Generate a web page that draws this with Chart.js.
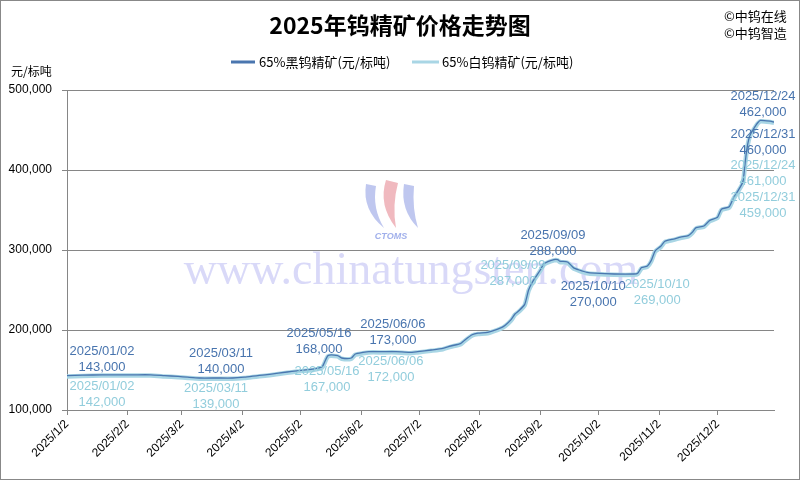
<!DOCTYPE html>
<html><head><meta charset="utf-8">
<script src="https://cdn.jsdelivr.net/npm/chart.js@4.4.1/dist/chart.umd.min.js"></script>
<style>html,body{margin:0;padding:0;background:#fff}#wrap{width:800px;height:480px;position:relative}</style>
</head><body><div id="wrap"><canvas id="c" width="800" height="480"></canvas></div>
<script>
// ---------------- DATA ----------------
const YEAR = 2025;
const titleText = '2025年钨精矿价格走势图';
const unitText = '元/标吨';
const creditLines = ['©中钨在线', '©中钨智造'];
const watermarkText = 'www.chinatungsten.com';
const seriesNames = ['65%黑钨精矿(元/标吨)', '65%白钨精矿(元/标吨)'];

const dates = ['01/02','01/10','01/20','02/05','02/14','02/21','02/28','03/05','03/11','03/20','03/28',
  '04/03','04/10','04/16','04/25','04/30','05/08','05/13','05/16','05/21','05/23','05/28','05/30',
  '06/03','06/06','06/13','06/20','06/27','07/01','07/08','07/14','07/18','07/23','07/25','07/29',
  '08/01','08/06','08/13','08/15','08/18','08/20','08/22','08/25','08/27','08/29','09/02','09/04',
  '09/09','09/11','09/12','09/16','09/19','09/22','09/26','09/30','10/10','10/20','10/22','10/24',
  '10/27','10/29','10/31','11/03','11/05','11/10','11/13','11/17','11/19','11/21','11/25','11/28',
  '12/02','12/04','12/08','12/10','12/12','12/15','12/16','12/17','12/18','12/19','12/22','12/23',
  '12/24','12/29','12/31'];
const blackPrices = [143000,143500,144000,144000,144000,143000,142000,141000,140000,140000,140000,
  141000,143000,144500,147500,149000,151000,154000,168000,168000,165000,165000,170000,
  172000,173000,173000,173000,172000,173000,175000,177000,180000,183000,187000,194000,
  196000,197000,203000,206000,213000,220000,224000,232000,250000,260000,275000,283000,
  288000,288000,286000,285000,278000,275000,272000,271000,270000,270000,271000,278000,
  280000,287000,299000,305000,311000,314000,316000,318000,322000,328000,330000,337000,
  341000,351000,354000,364000,372000,385000,405000,425000,438000,445000,457000,460000,
  462000,461000,460000];
const whitePrices = [142000,142500,143000,143000,143000,142000,141000,140000,139000,139000,139000,
  140000,142000,143500,146500,148000,150000,153000,167000,167000,164000,164000,169000,
  171000,172000,172000,172000,171000,172000,174000,176000,179000,182000,186000,193000,
  195000,196000,202000,205000,212000,219000,223000,231000,249000,259000,274000,282000,
  287000,287000,285000,284000,277000,274000,271000,270000,269000,269000,270000,277000,
  279000,286000,298000,304000,310000,313000,315000,317000,321000,327000,329000,336000,
  340000,350000,353000,363000,371000,384000,404000,424000,437000,444000,456000,459000,
  461000,460000,459000];

const tickDates = ['01/02','02/02','03/02','04/02','05/02','06/02','07/02','08/02','09/02','10/02','11/02','12/02'];
const tickLabels = ['2025/1/2','2025/2/2','2025/3/2','2025/4/2','2025/5/2','2025/6/2','2025/7/2','2025/8/2','2025/9/2','2025/10/2','2025/11/2','2025/12/2'];
const yTicks = [100000, 200000, 300000, 400000, 500000];
const lastDate = '12/31';

// annotated points: [series index, date]
const labelledPoints = [[0,'01/02'],[1,'01/02'],[0,'03/11'],[1,'03/11'],[0,'05/16'],[1,'05/16'],
  [0,'06/06'],[1,'06/06'],[0,'09/09'],[1,'09/09'],[0,'10/10'],[1,'10/10'],
  [0,'12/24'],[0,'12/31'],[1,'12/24'],[1,'12/31']];
// ---------------- STYLE ----------------
const labelOffsets = [[35,-24.5],[35,9.6],[21.6,-25],[16.6,9.5],[-9,-22.3],[-1,14.6],
  [24,-27.3],[22,9.3],[-1,-24.6],[-41,5.3],[-21,12.7],[43,9.5],
  [2.6,-24.4],[-11,12],[2.6,44],[-11,75]];
const darkColor = '#4A76AF', lightColor = '#A9D6E5';
const darkLabelColor = '#4874AE', lightLabelColor = '#92CDDC';
const gridColor = '#868686';
const latin = '"Liberation Sans", Arial, sans-serif';
const cjk = '"Noto Sans CJK SC", "Liberation Sans", sans-serif';

function dayIndex(md){ const [m,d] = md.split('/').map(Number); return (Date.UTC(YEAR,m-1,d) - Date.UTC(YEAR,0,2))/86400000; }
const fmt = v => v.toLocaleString('en-US');

const decor = {
  id:'decor',
  beforeDraw(chart){
    const c = chart.ctx; c.save();
    c.fillStyle='#fff'; c.fillRect(0,0,chart.width,chart.height);
    c.fillStyle='#000'; c.textBaseline='middle';
    c.font='bold 23px ' + cjk; c.textAlign='center';
    c.fillText(titleText, 400, 25);
    c.font='13px ' + cjk; c.textAlign='left';
    c.fillText(creditLines[0], 724, 16);
    c.fillText(creditLines[1], 724, 33);
    c.font='12px ' + cjk;
    c.fillText(unitText, 11, 71);
    // legend
    c.font='13px ' + cjk;
    c.fillStyle=darkColor; c.fillRect(231, 60.5, 24, 3);
    c.fillStyle='#000'; c.fillText(seriesNames[0], 259, 62);
    c.fillStyle=lightColor; c.fillRect(412, 60.5, 27, 3);
    c.fillStyle='#000'; c.fillText(seriesNames[1], 442, 62);
    c.restore();
  },
  beforeDatasetsDraw(chart){
    const c = chart.ctx; c.save();
    // logo (faded)
    c.globalAlpha = 0.4;
    c.fillStyle='#5f74d6';
    c.beginPath(); c.moveTo(366,184); c.quadraticCurveTo(362,210,384,228); c.quadraticCurveTo(372,208,376,186); c.closePath(); c.fill();
    c.beginPath(); c.moveTo(404,184); c.quadraticCurveTo(400,210,418,228); c.quadraticCurveTo(412,208,414,186); c.closePath(); c.fill();
    c.fillStyle='#d9505e';
    c.beginPath(); c.moveTo(386,180); c.quadraticCurveTo(378,205,396,228); c.quadraticCurveTo(392,205,398,183); c.closePath(); c.fill();
    c.globalAlpha = 0.65;
    c.fillStyle='#6f86e0'; c.font='italic bold 9px ' + latin; c.textAlign='center'; c.textBaseline='middle';
    c.fillText('CTOMS', 391, 237);
    c.globalAlpha = 0.42;
    c.fillStyle='#a4a4ee'; c.font='46px "Liberation Serif", "DejaVu Serif", serif';
    c.fillText(watermarkText, 411, 272);
    c.restore();
  },
  afterDatasetsDraw(chart){
    const c = chart.ctx; c.save();
    const xs = chart.scales.x, ys = chart.scales.y;
    c.font='13px ' + latin; c.textAlign='center'; c.textBaseline='middle';
    labelledPoints.forEach(([s,d],i)=>{
      const k = dates.indexOf(d);
      const v = s===0 ? blackPrices[k] : whitePrices[k];
      const px = xs.getPixelForValue(dayIndex(d)), py = ys.getPixelForValue(v);
      const [dx,dy] = labelOffsets[i];
      c.fillStyle = s===0 ? darkLabelColor : lightLabelColor;
      c.fillText(YEAR + '/' + d, px+dx, py+dy);
      c.fillText(fmt(v), px+dx, py+dy+16);
    });
    c.restore();
  },
  afterDraw(chart){
    const c = chart.ctx; c.save();
    c.strokeStyle='#888'; c.lineWidth=1; c.strokeRect(0.5,0.5,chart.width-1,chart.height-1);
    c.restore();
  }
};

new Chart(document.getElementById('c'), {
  type:'line',
  data:{ datasets:[
    { label:seriesNames[0], data:dates.map((d,i)=>({x:dayIndex(d), y:blackPrices[i]})), borderColor:darkColor, backgroundColor:darkColor,
      borderWidth:1.3, pointRadius:0, tension:0.2, fill:false },
    { label:seriesNames[1], data:dates.map((d,i)=>({x:dayIndex(d), y:whitePrices[i]})), borderColor:lightColor, backgroundColor:lightColor,
      borderWidth:4.5, pointRadius:0, tension:0.2, fill:false }
  ]},
  options:{
    responsive:false, animation:false, devicePixelRatio:1,
    layout:{ padding:{ top:90, right:26, left:0, bottom:0 } },
    plugins:{ legend:{display:false}, title:{display:false}, tooltip:{enabled:false} },
    scales:{
      x:{ type:'linear', min:0, max:dayIndex(lastDate),
        afterBuildTicks: ax => { ax.ticks = tickDates.map(d=>({value:dayIndex(d)})); },
        afterFit: ax => { ax.height = 70; },
        grid:{ drawOnChartArea:false, drawTicks:true, tickLength:5, color:gridColor },
        border:{ color:gridColor },
        ticks:{ autoSkip:false, maxRotation:45, minRotation:45, padding:2, color:'#000',
          font:{ family:latin, size:12 },
          callback: v => { const k = tickDates.findIndex(d=>dayIndex(d)===v); return k>=0 ? tickLabels[k] : ''; } } },
      y:{ min:100000, max:500000,
        afterBuildTicks: ax => { ax.ticks = yTicks.map(v=>({value:v})); },
        afterFit: ax => { ax.width = 67; },
        grid:{ color:gridColor, tickLength:5 },
        border:{ color:gridColor },
        ticks:{ padding:10, color:'#000', font:{ family:latin, size:12 }, callback: v => fmt(v) } }
    }
  },
  plugins:[decor]
});
</script>
</body></html>
